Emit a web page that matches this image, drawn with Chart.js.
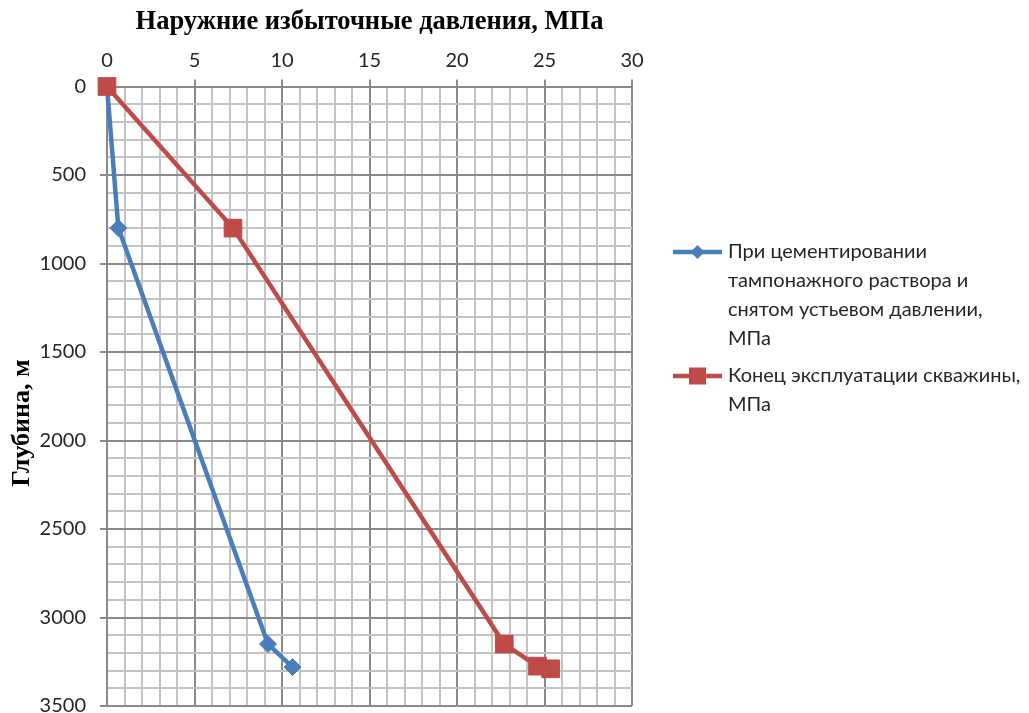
<!DOCTYPE html>
<html>
<head>
<meta charset="utf-8">
<script src="https://cdn.jsdelivr.net/npm/chart.js@4/dist/chart.umd.min.js"></script>
<style>
  html, body { margin: 0; padding: 0; background: #ffffff; }
  #wrap { width: 1029px; height: 713px; position: relative; }
</style>
</head>
<body>
<div id="wrap"><canvas id="c" width="1029" height="713"></canvas></div>
<script>
// Depth, m
const depthCement = [0, 800, 3150, 3280];
const depthExploit = [0, 800, 3150, 3275, 3290];
// Overpressure, MPa
const pressCement = [0, 0.65, 9.2, 10.6];
const pressExploit = [0, 7.2, 22.7, 24.6, 25.35];

const legendCement = ['При цементировании', 'тампонажного раствора и', 'снятом устьевом давлении,', 'МПа'];
const legendExploit = ['Конец эксплуатации скважины,', 'МПа'];

const xTitle = 'Наружние избыточные давления, МПа';
const yTitle = 'Глубина, м';

const BLUE = '#4a7ebb';
const RED = '#be4b48';
const TEXT = '#262626';
const SANS = 'Lato, "Noto Sans", sans-serif';
const SERIF = '"Liberation Serif", "DejaVu Serif", serif';

const toPts = (xs, ys) => xs.map((x, i) => ({ x, y: ys[i] }));

// wrapped legend on the right and the rotated depth title on the left
const sideText = {
  id: 'sideText',
  afterDraw(chart) {
    const ctx = chart.ctx;
    const items = [
      { lines: legendCement, color: BLUE, shape: 'diamond', y: 252 },
      { lines: legendExploit, color: RED, shape: 'square', y: 376 }
    ];
    ctx.save();
    items.forEach(it => {
      ctx.strokeStyle = it.color;
      ctx.lineWidth = 4.5;
      ctx.beginPath();
      ctx.moveTo(673, it.y);
      ctx.lineTo(722, it.y);
      ctx.stroke();
      ctx.fillStyle = it.color;
      const cx = 697.5;
      if (it.shape === 'diamond') {
        ctx.beginPath();
        ctx.moveTo(cx - 7, it.y);
        ctx.lineTo(cx, it.y - 7);
        ctx.lineTo(cx + 7, it.y);
        ctx.lineTo(cx, it.y + 7);
        ctx.closePath();
        ctx.fill();
      } else {
        ctx.fillRect(cx - 8.5, it.y - 8.5, 17, 17);
      }
      ctx.fillStyle = TEXT;
      ctx.font = '20px ' + SANS;
      ctx.textBaseline = 'middle';
      ctx.textAlign = 'left';
      it.lines.forEach((t, i) => ctx.fillText(t, 728, it.y + i * 28.7));
    });

    ctx.translate(22, 423);
    ctx.rotate(-Math.PI / 2);
    ctx.fillStyle = '#000';
    ctx.font = 'bold 26px ' + SERIF;
    ctx.textAlign = 'center';
    ctx.textBaseline = 'middle';
    ctx.fillText(yTitle, 0, 0);
    ctx.restore();
  }
};

const major = (c, step) => c.tick && Math.round(c.tick.value) % step === 0;
const noPad = s => { s.paddingTop = 0; s.paddingBottom = 0; s.paddingLeft = 0; s.paddingRight = 0; };

new Chart(document.getElementById('c'), {
  type: 'line',
  data: {
    datasets: [
      {
        label: legendCement.join(' '),
        data: toPts(pressCement, depthCement),
        borderColor: BLUE,
        backgroundColor: BLUE,
        borderWidth: 4.5,
        pointStyle: 'rectRot',
        pointRadius: 8.5,
        pointBorderWidth: 1,
        tension: 0,
        fill: false,
        clip: false,
        order: 2
      },
      {
        label: legendExploit.join(' '),
        data: toPts(pressExploit, depthExploit),
        borderColor: RED,
        backgroundColor: RED,
        borderWidth: 4.5,
        pointStyle: 'rect',
        pointRadius: 12.5,
        pointBorderWidth: 1,
        tension: 0,
        fill: false,
        clip: false,
        order: 1
      }
    ]
  },
  options: {
    responsive: false,
    animation: false,
    layout: { autoPadding: false, padding: { top: 0, left: 0, right: 397, bottom: 7 } },
    plugins: { legend: { display: false }, tooltip: { enabled: false } },
    scales: {
      x: {
        type: 'linear',
        position: 'top',
        min: 0,
        max: 30,
        afterFit: s => { s.height = 86.5; noPad(s); },
        ticks: {
          stepSize: 1,
          autoSkip: false,
          maxRotation: 0,
          padding: 7,
          color: TEXT,
          font: { family: SANS, size: 20 },
          callback: v => (v % 5 === 0 ? String(v) : '')
        },
        grid: {
          color: c => (major(c, 5) ? '#8a8a8a' : '#c3c3c3'),
          lineWidth: 2,
          tickLength: 7,
          tickColor: c => (major(c, 5) ? '#8a8a8a' : 'rgba(0,0,0,0)')
        },
        border: { color: '#8a8a8a', width: 2 },
        title: {
          display: true,
          text: xTitle,
          color: '#000',
          font: { family: SERIF, size: 26.5, weight: 'bold' },
          padding: { top: 6, bottom: 0 }
        }
      },
      y: {
        type: 'linear',
        reverse: true,
        min: 0,
        max: 3500,
        afterFit: s => { s.width = 107; noPad(s); },
        ticks: {
          stepSize: 100,
          autoSkip: false,
          padding: 14,
          color: TEXT,
          font: { family: SANS, size: 20 },
          callback: v => (v % 500 === 0 ? String(v) : '')
        },
        grid: {
          color: c => (major(c, 500) ? '#8a8a8a' : '#c3c3c3'),
          lineWidth: 2,
          tickLength: 7,
          tickColor: c => (major(c, 500) ? '#8a8a8a' : 'rgba(0,0,0,0)')
        },
        border: { color: '#8a8a8a', width: 2 }
      }
    }
  },
  plugins: [sideText]
});
</script>
</body>
</html>
